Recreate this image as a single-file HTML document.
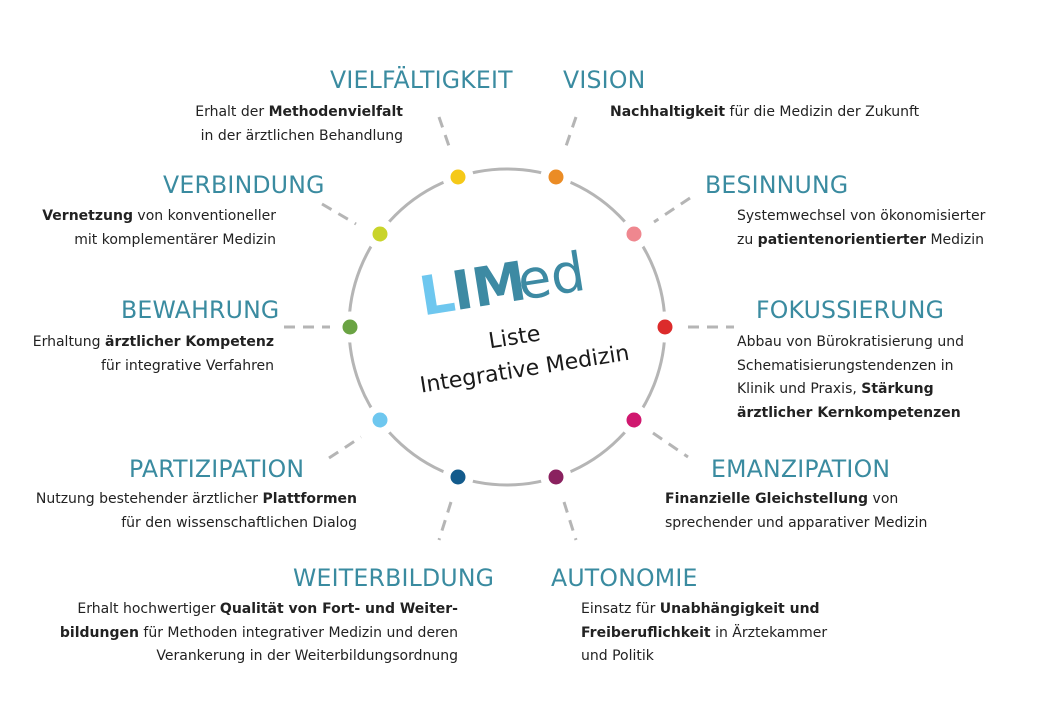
<!DOCTYPE html>
<html><head><meta charset="utf-8">
<style>
body{margin:0;width:1037px;height:724px;background:#fff;position:relative;overflow:hidden;font-family:"DejaVu Sans","Liberation Sans",sans-serif;}
.h{position:absolute;color:#3a8ba0;font-size:23.6px;line-height:26px;white-space:nowrap;font-family:"DejaVu Sans","Liberation Sans",sans-serif;letter-spacing:0.2px;font-weight:normal}
.t{position:absolute;color:#222;font-size:14px;line-height:23.5px;white-space:nowrap}
.r{text-align:right}
b{font-weight:bold}
</style></head><body>
<svg width="1037" height="724" style="position:absolute;left:0;top:0">
<circle cx="507" cy="327" r="158" fill="none" stroke="#b5b5b5" stroke-width="3"/>
<g stroke="#b5b5b5" stroke-width="3" stroke-dasharray="11,8">
<line x1="439" y1="117" x2="451" y2="152"/>
<line x1="576" y1="117" x2="564" y2="152"/>
<line x1="322" y1="204" x2="356" y2="224"/>
<line x1="690" y1="198" x2="654" y2="222"/>
<line x1="284" y1="327" x2="330" y2="327"/>
<line x1="688" y1="327" x2="734" y2="327"/>
<line x1="329" y1="458" x2="361" y2="437"/>
<line x1="653" y1="433" x2="688" y2="457"/>
<line x1="451" y1="502" x2="439" y2="540"/>
<line x1="564" y1="502" x2="576" y2="540"/>
</g>
<g stroke="#fff" stroke-width="8">
<circle cx="458" cy="177" r="11.5" fill="#f5c918"/>
<circle cx="556" cy="177" r="11.5" fill="#eb8c25"/>
<circle cx="634" cy="234" r="11.5" fill="#ef878f"/>
<circle cx="665" cy="327" r="11.5" fill="#dc2b2b"/>
<circle cx="634" cy="420" r="11.5" fill="#d0186f"/>
<circle cx="556" cy="477" r="11.5" fill="#8a215f"/>
<circle cx="458" cy="477" r="11.5" fill="#135b8c"/>
<circle cx="380" cy="420" r="11.5" fill="#6ec7ef"/>
<circle cx="350" cy="327" r="11.5" fill="#6aa343"/>
<circle cx="380" cy="234" r="11.5" fill="#c9d42a"/>
</g>
<g transform="rotate(-9 507 290)" font-family="DejaVu Sans, Liberation Sans, sans-serif">
<text x="420" y="302" font-size="54" font-weight="bold" fill="#6ec7ef">L</text>
<text x="453" y="302" font-size="54" font-weight="bold" fill="#3d8aa3">IM</text>
<text x="519" y="302" font-size="54" fill="#3d8aa3">ed</text>
<text x="507" y="345" font-size="22" fill="#1a1a1a" text-anchor="middle">Liste</text>
<text x="512" y="378" font-size="22" fill="#1a1a1a" text-anchor="middle">Integrative Medizin</text>
</g>
</svg>

<div class="h" style="left:330px;top:67px">VIELFÄLTIGKEIT</div>
<div class="t r" style="right:634px;top:101px">Erhalt der <b>Methodenvielfalt</b><br>in der ärztlichen Behandlung</div>

<div class="h" style="left:563px;top:67px">VISION</div>
<div class="t" style="left:610px;top:101px"><b>Nachhaltigkeit</b> für die Medizin der Zukunft</div>

<div class="h" style="left:163px;top:172px">VERBINDUNG</div>
<div class="t r" style="right:761px;top:205px"><b>Vernetzung</b> von konventioneller<br>mit komplementärer Medizin</div>

<div class="h" style="left:705px;top:172px">BESINNUNG</div>
<div class="t" style="left:737px;top:205px">Systemwechsel von ökonomisierter<br>zu <b>patientenorientierter</b> Medizin</div>

<div class="h" style="left:121px;top:297px">BEWAHRUNG</div>
<div class="t r" style="right:763px;top:331px">Erhaltung <b>ärztlicher Kompetenz</b><br>für integrative Verfahren</div>

<div class="h" style="left:756px;top:297px">FOKUSSIERUNG</div>
<div class="t" style="left:737px;top:331px">Abbau von Bürokratisierung und<br>Schematisierungstendenzen in<br>Klinik und Praxis, <b>Stärkung</b><br><b>ärztlicher Kernkompetenzen</b></div>

<div class="h" style="left:129px;top:456px">PARTIZIPATION</div>
<div class="t r" style="right:680px;top:488px">Nutzung bestehender ärztlicher <b>Plattformen</b><br>für den wissenschaftlichen Dialog</div>

<div class="h" style="left:711px;top:456px">EMANZIPATION</div>
<div class="t" style="left:665px;top:488px"><b>Finanzielle Gleichstellung</b> von<br>sprechender und apparativer Medizin</div>

<div class="h" style="left:293px;top:565px">WEITERBILDUNG</div>
<div class="t r" style="right:579px;top:598px">Erhalt hochwertiger <b>Qualität von Fort- und Weiter-</b><br><b>bildungen</b> für Methoden integrativer Medizin und deren<br>Verankerung in der Weiterbildungsordnung</div>

<div class="h" style="left:551px;top:565px">AUTONOMIE</div>
<div class="t" style="left:581px;top:598px">Einsatz für <b>Unabhängigkeit und</b><br><b>Freiberuflichkeit</b> in Ärztekammer<br>und Politik</div>
</body></html>
